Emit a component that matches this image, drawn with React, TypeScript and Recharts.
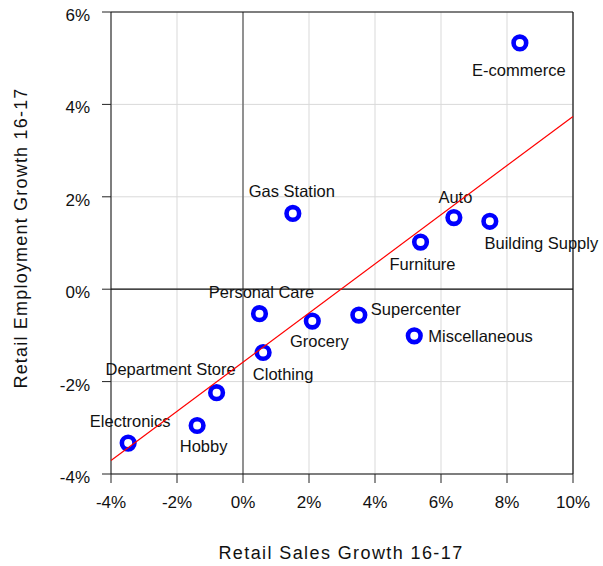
import React from 'react';
import { ScatterChart, Scatter, XAxis, YAxis, CartesianGrid, ReferenceLine } from 'recharts';

const categories = ['E-commerce', 'Auto', 'Building Supply', 'Furniture', 'Gas Station', 'Personal Care', 'Grocery', 'Supercenter', 'Miscellaneous', 'Clothing', 'Department Store', 'Hobby', 'Electronics'];
const salesGrowth = [8.39, 6.39, 7.48, 5.38, 1.51, 0.5, 2.1, 3.51, 5.19, 0.61, -0.8, -1.39, -3.48];
const employmentGrowth = [5.33, 1.55, 1.47, 1.02, 1.64, -0.53, -0.69, -0.56, -1.01, -1.37, -2.24, -2.95, -3.33];
const fitLineX = [-4, 10];
const fitLineY = [-3.71, 3.74];
const xTicks = [-4, -2, 0, 2, 4, 6, 8, 10];
const yTicks = [-4, -2, 0, 2, 4, 6];

// label placement relative to the marker (styling, not data)
const labelPlacement: Record<string, { dx: number; dy: number; anchor: 'middle' | 'start' }> = {
  'E-commerce': { dx: -1, dy: 33, anchor: 'middle' },
  'Auto': { dx: 1.5, dy: -15, anchor: 'middle' },
  'Building Supply': { dx: 51.5, dy: 28, anchor: 'middle' },
  'Furniture': { dx: 2, dy: 28, anchor: 'middle' },
  'Gas Station': { dx: -1, dy: -16.5, anchor: 'middle' },
  'Personal Care': { dx: 2, dy: -15.5, anchor: 'middle' },
  'Grocery': { dx: 7, dy: 25.5, anchor: 'middle' },
  'Supercenter': { dx: 12, dy: 0, anchor: 'start' },
  'Miscellaneous': { dx: 14, dy: 6.5, anchor: 'start' },
  'Clothing': { dx: 20, dy: 27.5, anchor: 'middle' },
  'Department Store': { dx: -46, dy: -17.5, anchor: 'middle' },
  'Hobby': { dx: 6.5, dy: 27, anchor: 'middle' },
  'Electronics': { dx: 2, dy: -16.5, anchor: 'middle' },
};

const points = categories.map((name, i) => ({ name, x: salesGrowth[i], y: employmentGrowth[i] }));
const fitLine = fitLineX.map((x, i) => ({ x, y: fitLineY[i] }));

const FONT = '"Liberation Sans", Arial, Helvetica, sans-serif';

const PointShape = (props: any) => {
  const { cx, cy, payload } = props;
  if (cx == null || cy == null) return <g />;
  const pl = labelPlacement[payload.name] || { dx: 0, dy: -15, anchor: 'middle' };
  return (
    <g>
      <circle cx={cx} cy={cy} r={6.3} fill="#ffffff" stroke="#0000ff" strokeWidth={4.6} />
      <text x={cx + pl.dx} y={cy + pl.dy} textAnchor={pl.anchor} fontFamily={FONT} fontSize={16.5} fill="#111">
        {payload.name}
      </text>
    </g>
  );
};

const XTick = (props: any) => {
  const { x, y, payload } = props;
  return (
    <text x={x} y={y + 25} textAnchor="middle" fontFamily={FONT} fontSize={17} fill="#111">
      {`${payload.value}%`}
    </text>
  );
};

const YTick = (props: any) => {
  const { x, y, payload } = props;
  return (
    <text x={x - 12} y={y + 9} textAnchor="end" fontFamily={FONT} fontSize={17} fill="#111">
      {`${payload.value}%`}
    </text>
  );
};

export default function App() {
  return (
    <div style={{ position: 'absolute', left: 0, top: 0, width: 603, height: 566, background: '#fff' }}>
      <ScatterChart width={603} height={566} margin={{ top: 12, right: 30, left: 0, bottom: 0 }}>
        <CartesianGrid stroke="#d9d9d9" strokeWidth={1} />
        <XAxis
          type="number"
          dataKey="x"
          domain={[-4, 10]}
          ticks={xTicks}
          height={92}
          tickSize={9}
          tickMargin={0}
          tickLine={{ stroke: '#222' }}
          axisLine={{ stroke: '#111' }}
          tick={<XTick />}
        />
        <YAxis
          type="number"
          dataKey="y"
          domain={[-4, 6]}
          ticks={yTicks}
          width={111}
          tickSize={9}
          tickMargin={0}
          tickLine={{ stroke: '#222' }}
          axisLine={{ stroke: '#111' }}
          tick={<YTick />}
        />
        <ReferenceLine x={0} stroke="#555555" strokeWidth={1.2} />
        <ReferenceLine y={0} stroke="#111111" strokeWidth={1.2} />
        <ReferenceLine y={6} stroke="#111111" strokeWidth={1.2} />
        <ReferenceLine x={10} stroke="#111111" strokeWidth={1.2} />
        <Scatter data={points} shape={<PointShape />} isAnimationActive={false} />
        <Scatter
          data={fitLine}
          line={{ stroke: '#ff0000', strokeWidth: 1.2 }}
          lineType="joint"
          shape={() => <g />}
          isAnimationActive={false}
        />
      </ScatterChart>
      <svg width={603} height={566} style={{ position: 'absolute', left: 0, top: 0, pointerEvents: 'none' }}>
        <text x={341} y={559} textAnchor="middle" fontFamily={FONT} fontSize={18} letterSpacing={1.4} fill="#111">
          Retail Sales Growth 16-17
        </text>
        <text
          x={27}
          y={238}
          textAnchor="middle"
          fontFamily={FONT}
          fontSize={18}
          letterSpacing={1.2}
          fill="#111"
          transform="rotate(-90, 27, 238)"
        >
          Retail Employment Growth 16-17
        </text>
      </svg>
    </div>
  );
}
